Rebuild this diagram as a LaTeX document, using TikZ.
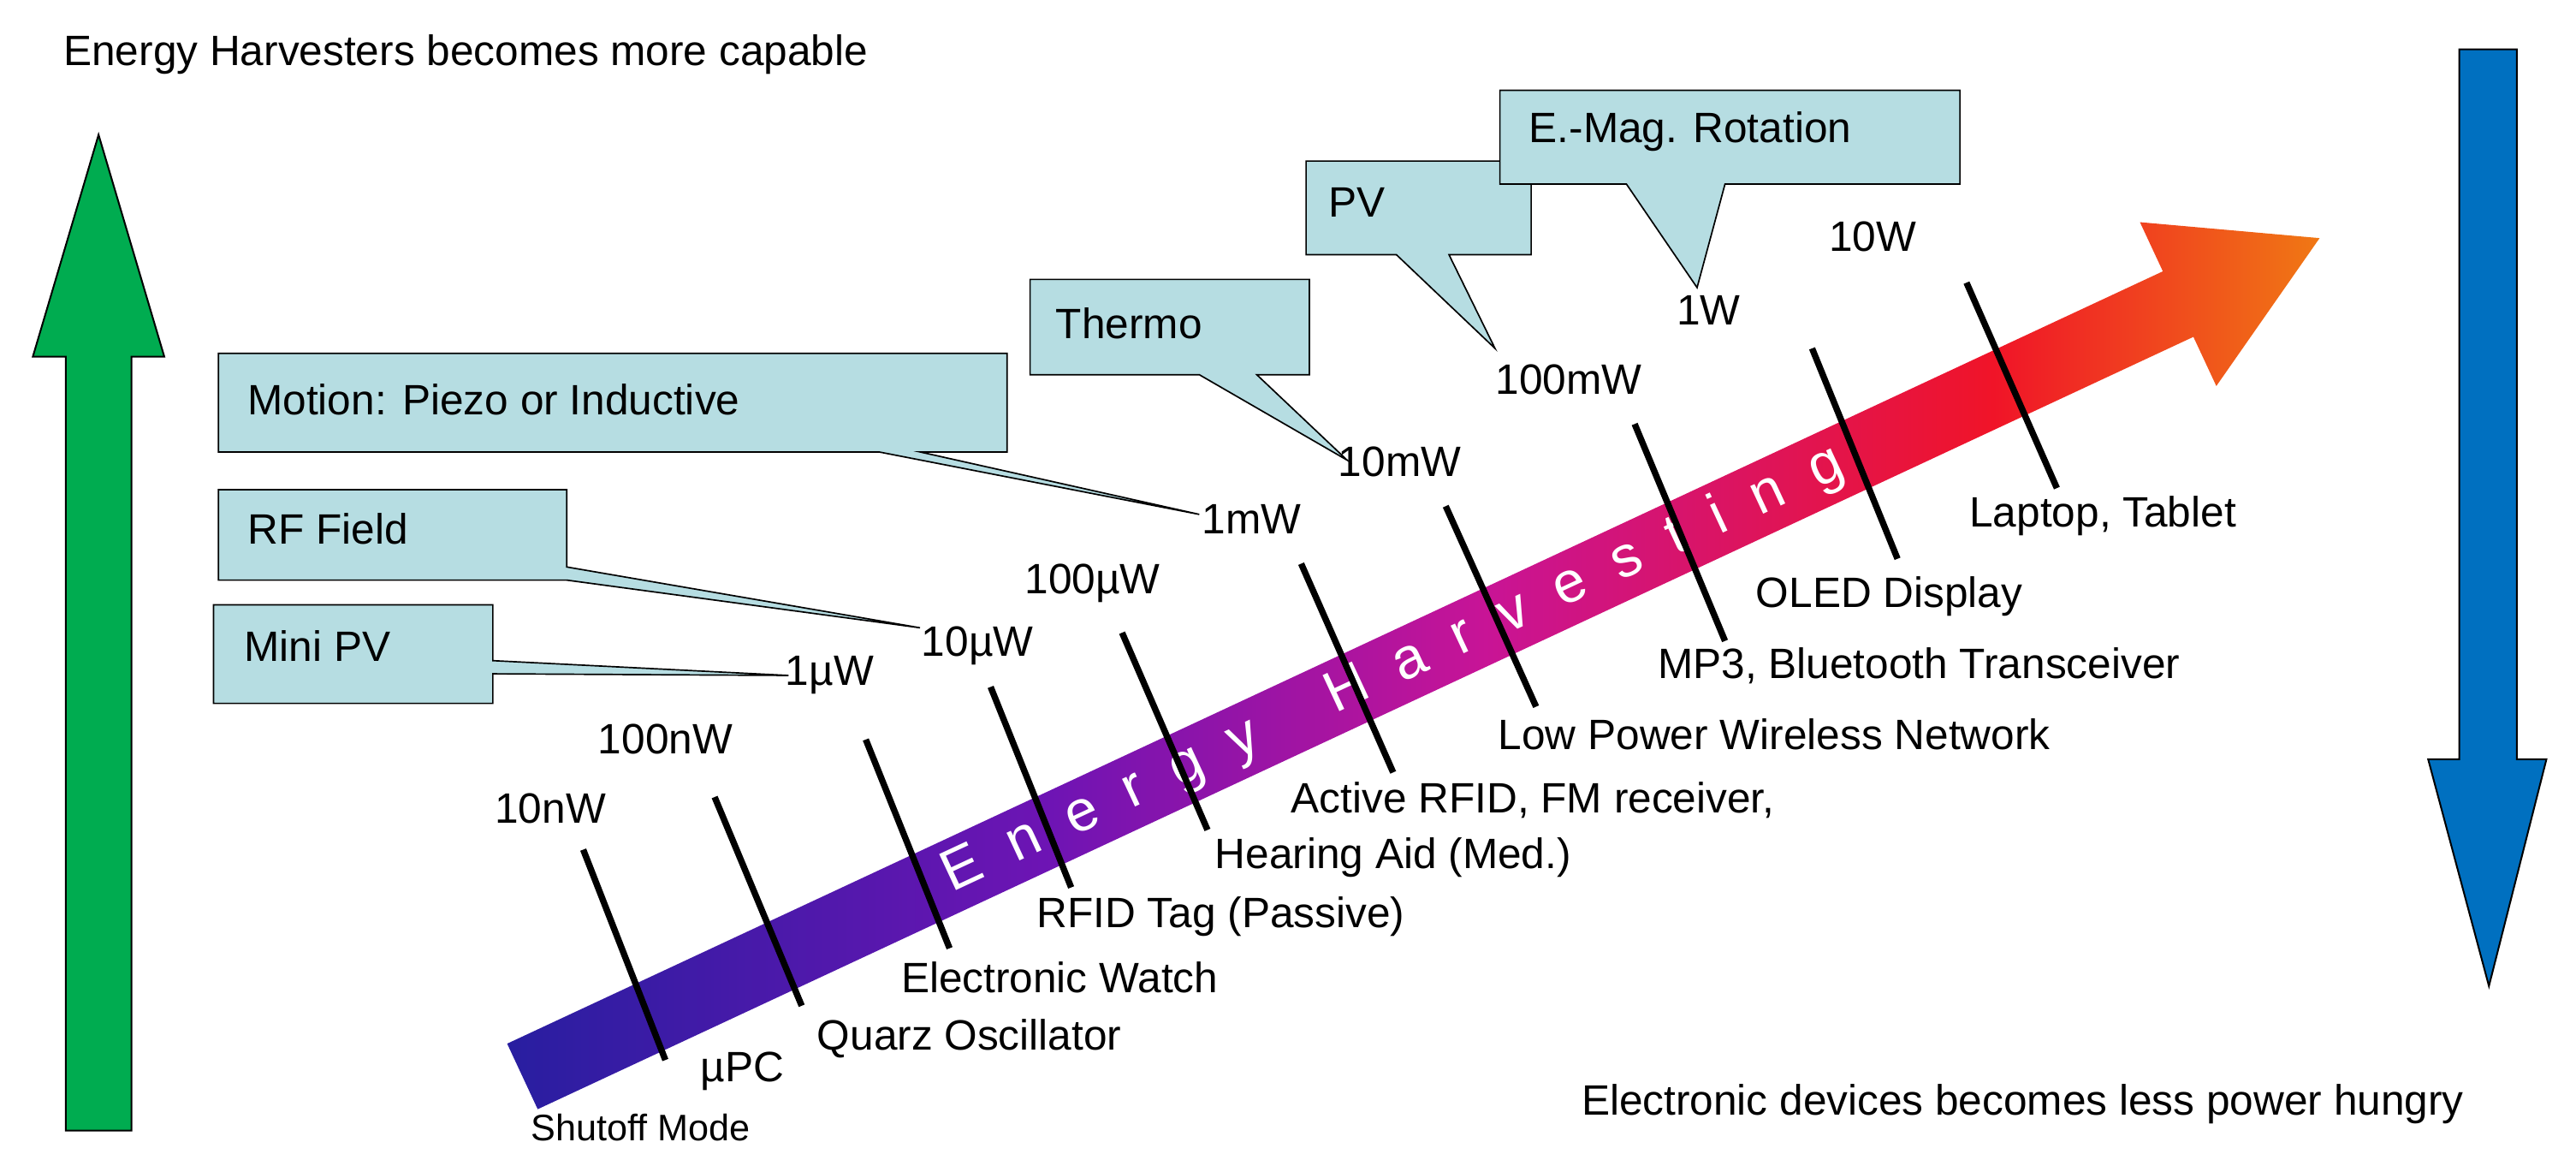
\documentclass[tikz,border=0pt]{standalone}
\usepackage{fontspec}
\setmainfont{Liberation Sans}
\definecolor{callfill}{RGB}{182,221,226}
\definecolor{upgreen}{RGB}{0,172,80}
\definecolor{downblue}{RGB}{0,112,192}
\definecolor{hvA}{RGB}{40,30,160}
\definecolor{hvB}{RGB}{110,20,180}
\definecolor{hvC}{RGB}{200,20,150}
\definecolor{hvD}{RGB}{240,20,40}
\definecolor{hvE}{RGB}{240,120,20}
\pgfdeclarehorizontalshading{harvest}{100bp}{color(0bp)=(hvA); color(25bp)=(hvA); color(40bp)=(hvB); color(52bp)=(hvC); color(66bp)=(hvD); color(75bp)=(hvE); color(100bp)=(hvE)}
\tikzset{
  lbl/.style={font=\fontsize{7.35}{9}\selectfont, inner sep=0pt},
  callout/.style={draw=black, fill=callfill, line width=0.25pt},
  tick/.style={line width=1.1pt, black},
}
\begin{document}
\begin{tikzpicture}[x=0.1mm, y=-0.1mm]
  \useasboundingbox (0,0) rectangle (1568,709);
  % headlines
  \node[lbl, anchor=west] (top) at (38,33) {Energy Harvesters becomes more capable};
  \node[lbl, anchor=west] (bot) at (962,672) {Electronic devices becomes less power hungry};
  % green and blue arrows
  \draw[fill=upgreen, line width=0.3pt] (40,688) -- (40,217) -- (20,217) -- (60,82)
      -- (100,217) -- (80,217) -- (80,688) -- cycle;
  \draw[fill=downblue, line width=0.3pt] (1497,30) -- (1532,30) -- (1532,462) -- (1550,462)
      -- (1515,600) -- (1478,462) -- (1497,462) -- cycle;
  % big arrow
  \begin{scope}[shift={(318,655)}, x=0.1mm, y=0.1mm, rotate=25]
    \shade[shading=harvest] (0,-22) -- (1112,-22) -- (1112,-55) -- (1207,0)
        -- (1112,55) -- (1112,22) -- (0,22) -- cycle;
    \node[lbl, text=white, rotate=25, font=\fontsize{10}{12}\selectfont] (eh) at (585,0)
        {E\ \ n\ \ e\ \ r\ \ g\ \ y\ \ \ \ \ H\ \ a\ \ r\ \ v\ \ e\ \ s\ \ t\ \ i\ \ n\ \ g};
  \end{scope}
  % ticks
  \foreach \xa/\ya/\xb/\yb in {355/517/405/645, 435/485/488/612, 527/450/578/577,
      603/418/652/540, 683/385/735/505, 792/343/848/470, 880/308/935/430,
      995/258/1050/390, 1103/212/1155/340, 1197/172/1252/297}
    \draw[tick] (\xa,\ya) -- (\xb,\yb);
  % power levels
  \node[lbl] (p1) at (335,492) {10nW};
  \node[lbl] (p2) at (405,450) {100nW};
  \node[lbl] (p3) at (505,411) {1µW};
  \node[lbl] (p4) at (595,393) {10µW};
  \node[lbl] (p5) at (665,355) {100µW};
  \node[lbl] (p6) at (762,316) {1mW};
  \node[lbl] (p7) at (852,281) {10mW};
  \node[lbl] (p8) at (955,231) {100mW};
  \node[lbl] (p9) at (1040,189) {1W};
  \node[lbl] (p10) at (1140,144) {10W};
  % devices
  \node[lbl] (d1a) at (452,652) {µPC};
  \node[lbl, font=\fontsize{6.4}{8}\selectfont] (d1b) at (390,686) {Shutoff Mode};
  \node[lbl] (d2) at (590,632) {Quarz Oscillator};
  \node[lbl] (d3) at (645,595) {Electronic Watch};
  \node[lbl] (d4) at (743,558) {RFID Tag (Passive)};
  \node[lbl] (d5) at (848,522) {Hearing Aid (Med.)};
  \node[lbl] (d6) at (933,487) {Active RFID, FM receiver,};
  \node[lbl] (d7) at (1080,447) {Low Power Wireless Network};
  \node[lbl] (d8) at (1168,405) {MP3, Bluetooth Transceiver};
  \node[lbl] (d9) at (1150,363) {OLED Display};
  \node[lbl] (d10) at (1280,314) {Laptop, Tablet};
  % callouts
  \draw[callout] (130,368) -- (300,368) -- (300,402) -- (480,411) -- (300,410)
      -- (300,428) -- (130,428) -- cycle;
  \node[lbl, anchor=west] (c1) at (148,393) {Mini PV};
  \draw[callout] (133,298) -- (345,298) -- (345,345) -- (560,382) -- (345,353)
      -- (133,353) -- cycle;
  \node[lbl, anchor=west] (c2) at (150,322) {RF Field};
  \draw[callout] (133,215) -- (613,215) -- (613,275) -- (560,275) -- (730,313)
      -- (535,275) -- (133,275) -- cycle;
  \node[lbl, anchor=west] (c3) at (150,243) {Motion: Piezo or Inductive};
  \draw[callout] (627,170) -- (797,170) -- (797,228) -- (765,228) -- (820,280)
      -- (730,228) -- (627,228) -- cycle;
  \node[lbl, anchor=west] (c4) at (642,197) {Thermo};
  \draw[callout] (795,98) -- (932,98) -- (932,155) -- (882,155) -- (910,212)
      -- (850,155) -- (795,155) -- cycle;
  \node[lbl, anchor=west] (c5) at (808,123) {PV};
  \draw[callout] (913,55) -- (1193,55) -- (1193,112) -- (1050,112) -- (1033,175)
      -- (990,112) -- (913,112) -- cycle;
  \node[lbl, anchor=west] (c6) at (930,80) {E.-Mag. Rotation};
\end{tikzpicture}
\end{document}
